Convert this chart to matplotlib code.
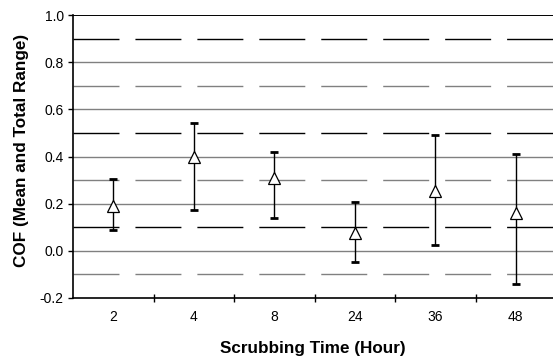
import numpy as np
import matplotlib
matplotlib.use('Agg')
import matplotlib.pyplot as plt

plt.rcParams['font.family'] = ['Liberation Sans', 'DejaVu Sans']

# scrubbing time categories and COF values (mean, min, max)
hours = ['2', '4', '8', '24', '36', '48']
cof_mean = [0.19, 0.40, 0.31, 0.073, 0.255, 0.158]
cof_min = [0.088, 0.174, 0.138, -0.05, 0.022, -0.142]
cof_max = [0.304, 0.542, 0.418, 0.207, 0.491, 0.409]

x = np.arange(len(hours))
mean = np.array(cof_mean)
lo = mean - np.array(cof_min)
hi = np.array(cof_max) - mean

fig = plt.figure(figsize=(5.53, 3.61), dpi=100)
ax = fig.add_axes([73/553, 1 - 297.7/361, 1 - 73/553, (297.7 - 15.3)/361])

ax.set_ylim(-0.2, 1.0)
ax.set_xlim(-0.5, -0.5 + 480/80.5)

# solid grid at 0.2 steps, dashed lines in between
for v in [0.0, 0.2, 0.4, 0.6, 0.8]:
    ax.axhline(v, color='#808080', lw=1.0, zorder=1)
ax.axhline(1.0, color='black', lw=1.4, zorder=1)
dash_cols = ['#808080', 'black', '#808080', 'black', '#808080', 'black']
for v, c in zip([-0.1, 0.1, 0.3, 0.5, 0.7, 0.9], dash_cols):
    ax.axhline(v, color=c, lw=1.0, linestyle=(0, (33.1, 11.5)), zorder=1)

ax.errorbar(x, mean, yerr=[lo, hi], fmt='none', ecolor='black', elinewidth=1.0,
            capsize=2.8, capthick=2, zorder=3)
ax.plot(x, mean, linestyle='none', marker='^', markersize=8.5,
        markerfacecolor='white', markeredgecolor='black', markeredgewidth=0.9, zorder=4)

ax.spines['top'].set_visible(False)
ax.spines['right'].set_visible(False)
ax.spines['left'].set_linewidth(1.2)
ax.spines['bottom'].set_linewidth(1.2)

ax.set_yticks(np.arange(-0.2, 1.01, 0.2))
ax.set_yticklabels([f'{v:.1f}' for v in np.arange(-0.2, 1.01, 0.2)])
ax.tick_params(axis='y', direction='out', length=3.6, width=1, pad=3, labelsize=10)

ax.set_xticks(x)
ax.set_xticklabels(hours)
ax.set_xticks(np.arange(0.5, 5.5, 1), minor=True)
ax.tick_params(axis='x', which='major', length=0, pad=9, labelsize=10)
ax.tick_params(axis='x', which='minor', direction='inout', length=6, width=1)

ax.set_xlabel('Scrubbing Time (Hour)', fontsize=12.3, fontweight='bold', labelpad=12)
ax.set_ylabel('COF (Mean and Total Range)', fontsize=12.3, fontweight='bold')
ax.yaxis.set_label_coords(-0.092, 0.521)

fig.savefig('out.png', dpi=100)
